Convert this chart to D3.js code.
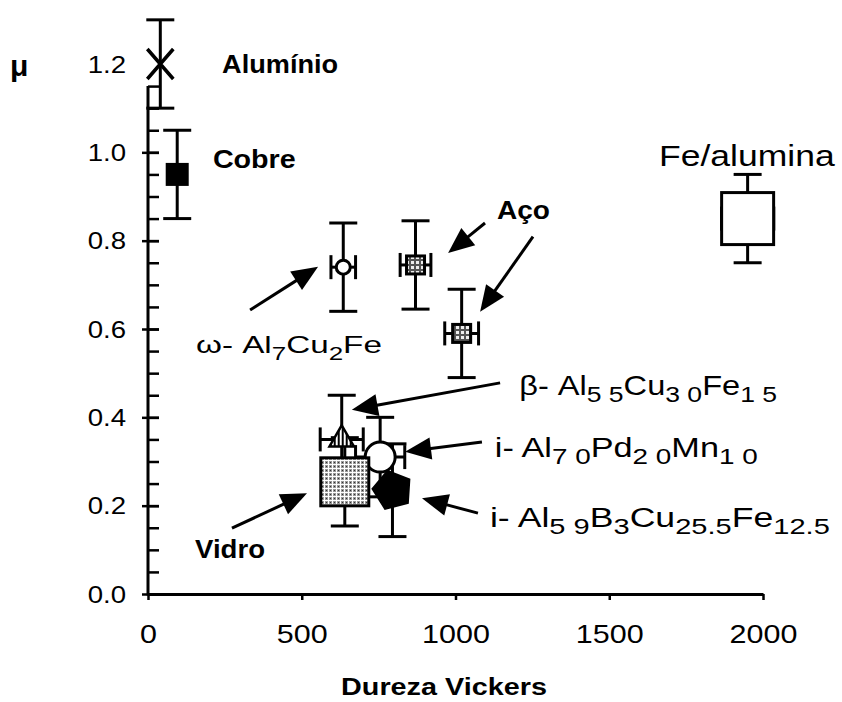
<!DOCTYPE html>
<html>
<head>
<meta charset="utf-8">
<script src="https://cdn.jsdelivr.net/npm/d3@7"></script>
<style>
  body { margin: 0; background: #fff; }
  svg { display: block; }
  text { font-family: "Liberation Sans", Arial, sans-serif; fill: #000; }
</style>
</head>
<body>
<svg id="chart" width="842" height="702"></svg>
<script>
// values
var materials = ["Alumínio", "Cobre", "ω-Al7Cu2Fe", "Aço", "Aço", "β-Al55Cu30Fe15",
    "i-Al59B3Cu25.5Fe12.5", "i-Al70Pd20Mn10", "Vidro", "Fe/alumina"];
var hardness = [40, 95, 635, 870, 1020, 630, 795, 755, 640, 1950];
var friction = [1.20, 0.95, 0.74, 0.745, 0.59, 0.35, 0.235, 0.31, 0.254, 0.85];
var frictionErr = [0.10, 0.10, 0.10, 0.10, 0.10, 0.10, 0.105, 0.09, 0.10, 0.10];
var hardnessErr = [0, 0, 40, 50, 55, 70, 0, 80, 0, 85];

var xTicks = [0, 500, 1000, 1500, 2000];
var yTicks = [0, 0.2, 0.4, 0.6, 0.8, 1.0, 1.2];

// annotation arrows (tail -> tip), data units
var arrowTail = [[332, 0.643], [1096, 0.840], [1252, 0.809], [1145, 0.478], [1086, 0.344], [1073, 0.183], [273, 0.149]];
var arrowTip = [[553, 0.741], [976, 0.772], [1080, 0.639], [663, 0.417], [836, 0.322], [891, 0.217], [517, 0.228]];

// labels, _{..} marks a subscript
var labelText = ["Alumínio", "Cobre", "Fe/alumina", "Aço", "ω- Al_{7}Cu_{2}Fe",
    "β- Al_{5 5}Cu_{3 0}Fe_{1 5}", "i- Al_{7 0}Pd_{2 0}Mn_{1 0}",
    "i- Al_{5 9}B_{3}Cu_{25.5}Fe_{12.5}", "Vidro"];
var labelAt = [[241, 1.180], [211, 0.965], [1662, 0.969], [1135, 0.849], [156, 0.546],
    [1207, 0.451], [1128, 0.310], [1112, 0.152], [153, 0.082]];

// styling
var labelStyle = [
    {size: 25, bold: true, width: 116},
    {size: 25, bold: true, width: 83},
    {size: 30, bold: false, width: 176},
    {size: 25, bold: true, width: 53},
    {size: 23, bold: false, width: 186},
    {size: 27, bold: false, width: 258},
    {size: 27, bold: false, width: 263},
    {size: 27, bold: false, width: 340},
    {size: 25, bold: true, width: 70}
];
var markerStyle = {
    "Alumínio": {type: "x", half: 13},
    "Cobre": {type: "square", size: 20, fill: "#000"},
    "ω-Al7Cu2Fe": {type: "circle", r: 7, fill: "#fff"},
    "Aço": {type: "square", size: 18, fill: "url(#grid)"},
    "β-Al55Cu30Fe15": {type: "triangle", size: 260, fill: "url(#hatch)"},
    "i-Al59B3Cu25.5Fe12.5": {type: "pentagon", r: 20, fill: "#000"},
    "i-Al70Pd20Mn10": {type: "circle", r: 15, fill: "#fff"},
    "Vidro": {type: "square", size: 48, fill: "url(#gridFine)"},
    "Fe/alumina": {type: "square", size: 52, fill: "#fff"}
};
var capHalf = 14;

var svg = d3.select("#chart");

var x = d3.scaleLinear().domain([0, 2000]).range([148, 763]);
var y = d3.scaleLinear().domain([0, 1.2]).range([594, 64]);

function fitText(t, w) {
    var bw = t.node().getBBox().width;
    t.attr("transform", "scale(" + (w / bw) + ",1)");
}

// fill patterns
var defs = svg.append("defs");
var p1 = defs.append("pattern").attr("id", "grid").attr("width", 5).attr("height", 5)
    .attr("patternUnits", "userSpaceOnUse");
p1.append("rect").attr("width", 5).attr("height", 5).attr("fill", "#555");
p1.append("rect").attr("x", 1).attr("y", 1).attr("width", 3).attr("height", 3).attr("fill", "#eee");
var p2 = defs.append("pattern").attr("id", "gridFine").attr("width", 4).attr("height", 4)
    .attr("patternUnits", "userSpaceOnUse");
p2.append("rect").attr("width", 4).attr("height", 4).attr("fill", "#fff");
p2.append("rect").attr("x", 1).attr("y", 1).attr("width", 3).attr("height", 3).attr("fill", "#999");
p2.append("rect").attr("x", 2).attr("y", 2).attr("width", 1).attr("height", 1).attr("fill", "#333");
var p3 = defs.append("pattern").attr("id", "hatch").attr("width", 4).attr("height", 4)
    .attr("patternUnits", "userSpaceOnUse");
p3.append("rect").attr("width", 4).attr("height", 4).attr("fill", "#fff");
p3.append("rect").attr("width", 2).attr("height", 4).attr("fill", "#000");

// y axis: minor ticks to the right, majors crossing
var yAxisG = svg.append("g").attr("transform", "translate(" + x(0) + ",0)");
var minorVals = d3.range(0, 24).map(function(i) { return i * 0.05; });
yAxisG.append("g")
    .call(d3.axisRight(y).tickValues(minorVals).tickSize(11).tickFormat(""))
    .call(function(g) { g.select(".domain").remove(); })
    .selectAll("line").attr("stroke", "#000").attr("stroke-width", 2.5);

var yMajor = yAxisG.append("g")
    .call(d3.axisLeft(y).tickValues(yTicks).tickSize(6).tickFormat(d3.format(".1f")))
    .call(function(g) { g.select(".domain").remove(); });
yMajor.selectAll("line")
    .attr("stroke", "#000").attr("stroke-width", 2.5)
    .attr("x1", function(d) { return d <= 1.15 ? 11 : 0; })
    .attr("x2", function(d) { return d <= 1.15 ? -6 : 0; });
yMajor.selectAll("text")
    .attr("font-size", 23).attr("fill", "#000")
    .attr("x", -22 / 1.2).attr("dy", "0.36em")
    .attr("transform", "scale(1.2,1)");

yAxisG.append("line")
    .attr("x1", 0).attr("x2", 0)
    .attr("y1", y(0) + 1.5).attr("y2", y(1.15))
    .attr("stroke", "#000").attr("stroke-width", 3);

// x axis
var xAxisG = svg.append("g").attr("transform", "translate(0," + y(0) + ")")
    .call(d3.axisBottom(x).tickValues(xTicks).tickSize(6).tickSizeOuter(0).tickFormat(d3.format("d")));
xAxisG.select(".domain").attr("stroke", "#000").attr("stroke-width", 3);
xAxisG.selectAll(".tick line").attr("stroke", "#000").attr("stroke-width", 2.5);
xAxisG.selectAll(".tick text")
    .attr("font-size", 25).attr("fill", "#000")
    .attr("y", 49).attr("dy", 0)
    .attr("transform", "scale(1.22,1)");

// axis titles
svg.append("text").attr("x", 10).attr("y", 76)
    .attr("font-size", 30).attr("font-weight", "bold").text("μ");
fitText(svg.append("g").attr("transform", "translate(444,695)")
    .append("text").attr("text-anchor", "middle")
    .attr("font-size", 24).attr("font-weight", "bold").text("Dureza Vickers"), 206);

// error bars
var bars = svg.append("g").attr("stroke", "#000").attr("stroke-width", 3).attr("fill", "none");
materials.forEach(function(m, i) {
    var cx = x(hardness[i]), cy = y(friction[i]);
    var top = y(friction[i] + frictionErr[i]), bot = y(friction[i] - frictionErr[i]);
    bars.append("line").attr("x1", cx).attr("x2", cx).attr("y1", top).attr("y2", bot);
    bars.append("line").attr("x1", cx - capHalf).attr("x2", cx + capHalf).attr("y1", top).attr("y2", top);
    bars.append("line").attr("x1", cx - capHalf).attr("x2", cx + capHalf).attr("y1", bot).attr("y2", bot);
    if (hardnessErr[i] > 0) {
        var lx = x(hardness[i] - hardnessErr[i]), rx = x(hardness[i] + hardnessErr[i]);
        bars.append("line").attr("x1", lx).attr("x2", rx).attr("y1", cy).attr("y2", cy);
        bars.append("line").attr("x1", lx).attr("x2", lx).attr("y1", cy - 12).attr("y2", cy + 12);
        bars.append("line").attr("x1", rx).attr("x2", rx).attr("y1", cy - 12).attr("y2", cy + 12);
    }
});

// markers
var marks = svg.append("g");
materials.forEach(function(m, i) {
    var s = markerStyle[m];
    var cx = x(hardness[i]), cy = y(friction[i]);
    if (s.type === "x") {
        var h = s.half;
        marks.append("path")
            .attr("d", "M" + (cx - h) + "," + (cy - h - 2) + "L" + (cx + h) + "," + (cy + h + 2) +
                "M" + (cx + h) + "," + (cy - h - 2) + "L" + (cx - h) + "," + (cy + h + 2))
            .attr("stroke", "#000").attr("stroke-width", 3.5).attr("fill", "none");
    } else if (s.type === "square") {
        marks.append("rect")
            .attr("x", cx - s.size / 2).attr("y", cy - s.size / 2)
            .attr("width", s.size).attr("height", s.size)
            .attr("fill", s.fill).attr("stroke", "#000").attr("stroke-width", 3);
    } else if (s.type === "circle") {
        marks.append("circle").attr("cx", cx).attr("cy", cy).attr("r", s.r)
            .attr("fill", s.fill).attr("stroke", "#000").attr("stroke-width", 3);
    } else if (s.type === "triangle") {
        marks.append("path")
            .attr("d", d3.symbol().type(d3.symbolTriangle).size(s.size)())
            .attr("transform", "translate(" + cx + "," + cy + ")")
            .attr("fill", s.fill).attr("stroke", "#000").attr("stroke-width", 2.5);
    } else if (s.type === "pentagon") {
        var pts = d3.range(5).map(function(k) {
            var a = -Math.PI / 2 - 0.25 + k * 2 * Math.PI / 5;
            return [cx + s.r * Math.cos(a), cy + s.r * Math.sin(a)];
        });
        marks.append("path").attr("d", "M" + pts.join("L") + "Z")
            .attr("fill", s.fill).attr("stroke", "#000").attr("stroke-width", 2);
    }
});

// arrows
var arrows = svg.append("g");
arrowTail.forEach(function(t, i) {
    var x0 = x(t[0]), y0 = y(t[1]);
    var x1 = x(arrowTip[i][0]), y1 = y(arrowTip[i][1]);
    var ang = Math.atan2(y1 - y0, x1 - x0);
    var L = 26, W = 11;
    var bx = x1 - L * Math.cos(ang), by = y1 - L * Math.sin(ang);
    var nx = -Math.sin(ang), ny = Math.cos(ang);
    arrows.append("line").attr("x1", x0).attr("y1", y0).attr("x2", bx + 2 * Math.cos(ang)).attr("y2", by + 2 * Math.sin(ang))
        .attr("stroke", "#000").attr("stroke-width", 3);
    arrows.append("path")
        .attr("d", "M" + x1 + "," + y1 + "L" + (bx + W * nx) + "," + (by + W * ny) +
            "L" + (bx - W * nx) + "," + (by - W * ny) + "Z")
        .attr("fill", "#000");
});

// labels
labelText.forEach(function(txt, i) {
    var st = labelStyle[i];
    var g = svg.append("g")
        .attr("transform", "translate(" + x(labelAt[i][0]) + "," + y(labelAt[i][1]) + ")");
    var t = g.append("text").attr("font-size", st.size)
        .attr("font-weight", st.bold ? "bold" : "normal");
    var parts = txt.split(/_\{([^}]*)\}/);
    parts.forEach(function(p, k) {
        if (p === "") return;
        if (k % 2 === 1) {
            t.append("tspan").attr("font-size", Math.round(st.size * 0.8))
                .attr("dy", 7).text(p);
        } else {
            t.append("tspan").attr("dy", k > 0 ? -7 : 0).text(p);
        }
    });
    t.attr("xml:space", "preserve");
    fitText(t, st.width);
});
</script>
</body>
</html>
